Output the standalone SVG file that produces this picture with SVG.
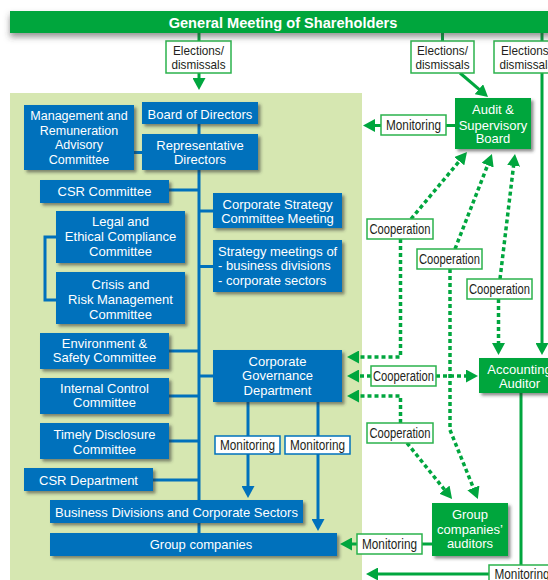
<svg xmlns="http://www.w3.org/2000/svg" width="548" height="580" viewBox="0 0 548 580">
<defs>
<filter id="sh" x="-20%" y="-20%" width="150%" height="170%">
<feDropShadow dx="2.5" dy="2.5" stdDeviation="1.5" flood-color="#303030" flood-opacity="0.55"/>
</filter>
<filter id="shbar" x="-5%" y="-60%" width="110%" height="260%">
<feDropShadow dx="0" dy="4" stdDeviation="3" flood-color="#404040" flood-opacity="0.55"/>
</filter>
<marker id="ag" markerUnits="userSpaceOnUse" markerWidth="12" markerHeight="13" viewBox="0 0 12 13" refX="3" refY="6.5" orient="auto">
<path d="M0,0 L12,6.5 L0,13z" fill="#00a63e"/>
</marker>
<marker id="ab" markerUnits="userSpaceOnUse" markerWidth="12" markerHeight="13" viewBox="0 0 12 13" refX="3" refY="6.5" orient="auto">
<path d="M0,0 L12,6.5 L0,13z" fill="#0071bc"/>
</marker>
</defs>
<style>
.g{fill:#00a63e;filter:url(#sh)}
.b{fill:#0071bc;filter:url(#sh)}
.t{font-family:"Liberation Sans",Arial,sans-serif;font-size:13px;fill:#fff;text-anchor:middle}
.lb{fill:#fff;stroke:#2bb24c;stroke-width:1.5}
.lbb{fill:#fff;stroke:#0071bc;stroke-width:1.5}
.lt{font-family:"Liberation Sans Narrow","Liberation Sans",Arial,sans-serif;font-size:14px;fill:#231f20;text-anchor:middle}
.le{font-family:"Liberation Sans Narrow","Liberation Sans",Arial,sans-serif;font-size:13.5px;fill:#231f20;text-anchor:middle}
.sg{fill:none;stroke:#00a63e;stroke-width:3}
.sb{fill:none;stroke:#0071bc;stroke-width:3}
.dg{fill:none;stroke:#00a63e;stroke-width:3.5;stroke-dasharray:4 3}
</style>
<rect x="0" y="0" width="548" height="580" fill="#fff"/>
<rect x="10" y="93" width="352" height="487" fill="#d6e7b1"/>

<g id="connectors">
<!-- blue tree -->
<path class="sb" d="M199,124 V545"/>
<path class="sb" d="M134,152.5 H142 M169,190 H199 M199,211 H213 M199,266.5 H213 M169,351 H199 M199,376 H213 M169,396 H199 M169,441 H199 M153,480 H199"/>
<path class="sb" d="M56,237 H45 V300 H56"/>
<path class="sb" d="M248,402 V489" marker-end="url(#ab)"/>
<path class="sb" d="M318,402 V522" marker-end="url(#ab)"/>
<!-- green solid -->
<path class="sg" d="M199,33 V81" marker-end="url(#ag)"/>
<path class="sg" d="M442.5,33 V41"/>
<path class="sg" d="M460,73 L481.2,91.1" marker-end="url(#ag)"/>
<path class="sg" d="M542,33 V346" marker-end="url(#ag)"/>
<path class="sg" d="M455,125.5 H372" marker-end="url(#ag)"/>
<path class="sg" d="M432,544 H349" marker-end="url(#ag)"/>
<path class="sg" d="M521,393 V574 H375" marker-end="url(#ag)"/>
<!-- green dotted -->
<path class="dg" d="M400.5,239 V357 H356" marker-end="url(#ag)"/>
<path class="dg" d="M411,219 L461.2,158.9" marker-end="url(#ag)"/>
<path class="dg" d="M371,376 H356" marker-end="url(#ag)"/>
<path class="dg" d="M436,376 H469" marker-end="url(#ag)"/>
<path class="dg" d="M400.5,423 V396 H356" marker-end="url(#ag)"/>
<path class="dg" d="M407,443 L446.4,492" marker-end="url(#ag)"/>
<path class="dg" d="M455,249 L488.7,162.4" marker-end="url(#ag)"/>
<path class="dg" d="M450,269 V430 L474.5,490.7" marker-end="url(#ag)"/>
<path class="dg" d="M500,279 L513.9,162.9" marker-end="url(#ag)"/>
<path class="dg" d="M498.5,299 V346" marker-end="url(#ag)"/>
<!-- labels -->
<rect class="lb" x="166" y="41" width="65" height="32"/>
<text class="le" x="198.5" y="54.5" textLength="51" lengthAdjust="spacingAndGlyphs">Elections/</text>
<text class="le" x="198.5" y="69" textLength="54" lengthAdjust="spacingAndGlyphs">dismissals</text>
<rect class="lb" x="411" y="41" width="63" height="32"/>
<text class="le" x="442.5" y="54.5" textLength="51" lengthAdjust="spacingAndGlyphs">Elections/</text>
<text class="le" x="442.5" y="69" textLength="54" lengthAdjust="spacingAndGlyphs">dismissals</text>
<rect class="lb" x="494" y="41" width="65" height="32"/>
<text class="le" x="526.5" y="54.5" textLength="51" lengthAdjust="spacingAndGlyphs">Elections/</text>
<text class="le" x="526.5" y="69" textLength="54" lengthAdjust="spacingAndGlyphs">dismissals</text>
<rect class="lb" x="381" y="115" width="65" height="20"/>
<text class="lt" x="413.5" y="130" textLength="55" lengthAdjust="spacingAndGlyphs">Monitoring</text>
<rect class="lb" x="367" y="219" width="66" height="20"/>
<text class="lt" x="400" y="234" textLength="61" lengthAdjust="spacingAndGlyphs">Cooperation</text>
<rect class="lb" x="417" y="249" width="65" height="20"/>
<text class="lt" x="449.5" y="264" textLength="61" lengthAdjust="spacingAndGlyphs">Cooperation</text>
<rect class="lb" x="467" y="279" width="65" height="20"/>
<text class="lt" x="499.5" y="294" textLength="61" lengthAdjust="spacingAndGlyphs">Cooperation</text>
<rect class="lb" x="371" y="366" width="65" height="20"/>
<text class="lt" x="403.5" y="381" textLength="61" lengthAdjust="spacingAndGlyphs">Cooperation</text>
<rect class="lb" x="367" y="423" width="66" height="20"/>
<text class="lt" x="400" y="438" textLength="61" lengthAdjust="spacingAndGlyphs">Cooperation</text>
<rect class="lbb" x="215" y="436" width="65" height="18"/>
<text class="lt" x="247.5" y="450" textLength="55" lengthAdjust="spacingAndGlyphs">Monitoring</text>
<rect class="lbb" x="285" y="436" width="65" height="18"/>
<text class="lt" x="317.5" y="450" textLength="55" lengthAdjust="spacingAndGlyphs">Monitoring</text>
<rect class="lb" x="357" y="534" width="65" height="20"/>
<text class="lt" x="389.5" y="549" textLength="55" lengthAdjust="spacingAndGlyphs">Monitoring</text>
<rect class="lb" x="489" y="565" width="66" height="20"/>
<text class="lt" x="522" y="579" textLength="55" lengthAdjust="spacingAndGlyphs">Monitoring</text>
</g>

<g id="general-meeting">
<rect x="10" y="11" width="545" height="22" fill="#00a63e" filter="url(#shbar)"/>
<text x="283" y="28" font-family="Liberation Sans, Arial, sans-serif" font-size="14.6" font-weight="bold" fill="#fff" text-anchor="middle">General Meeting of Shareholders</text>
</g>

<g id="mgmt-remuneration">
<rect class="b" x="24" y="105" width="110" height="65"/>
<text class="t" x="79" font-size="12.5"><tspan x="79" y="120" style="font-size:12.5px">Management and</tspan><tspan x="79" y="135" style="font-size:12.5px">Remuneration</tspan><tspan x="79" y="149" style="font-size:12.5px">Advisory</tspan><tspan x="79" y="164" style="font-size:12.5px">Committee</tspan></text>
</g>
<g id="board">
<rect class="b" x="142" y="102" width="116" height="22"/>
<text class="t" x="200" y="118.5">Board of Directors</text>
</g>
<g id="rep-directors">
<rect class="b" x="142" y="134" width="116" height="36"/>
<text class="t"><tspan x="200" y="150">Representative</tspan><tspan x="200" y="164">Directors</tspan></text>
</g>
<g id="csr-committee">
<rect class="b" x="40" y="180" width="129" height="23"/>
<text class="t" x="104.5" y="195.5">CSR Committee</text>
</g>
<g id="legal">
<rect class="b" x="56" y="211" width="129" height="52"/>
<text class="t"><tspan x="120.5" y="225.5">Legal and</tspan><tspan x="120.5" y="240.5">Ethical Compliance</tspan><tspan x="120.5" y="255.5">Committee</tspan></text>
</g>
<g id="crisis">
<rect class="b" x="56" y="272" width="129" height="52"/>
<text class="t"><tspan x="120.5" y="289">Crisis and</tspan><tspan x="120.5" y="304">Risk Management</tspan><tspan x="120.5" y="318.5">Committee</tspan></text>
</g>
<g id="corp-strategy">
<rect class="b" x="213" y="193" width="129" height="35"/>
<text class="t"><tspan x="277.5" y="209">Corporate Strategy</tspan><tspan x="277.5" y="222.5">Committee Meeting</tspan></text>
</g>
<g id="strategy-meetings">
<rect class="b" x="213" y="240" width="129" height="52"/>
<text class="t" style="text-anchor:start"><tspan x="218" y="255.5">Strategy meetings of</tspan><tspan x="218" y="270">- business divisions</tspan><tspan x="218" y="285">- corporate sectors</tspan></text>
</g>
<g id="env-safety">
<rect class="b" x="40" y="333" width="129" height="36"/>
<text class="t"><tspan x="104.5" y="348">Environment &amp;</tspan><tspan x="104.5" y="362">Safety Committee</tspan></text>
</g>
<g id="internal-control">
<rect class="b" x="40" y="378" width="129" height="36"/>
<text class="t"><tspan x="104.5" y="393">Internal Control</tspan><tspan x="104.5" y="407">Committee</tspan></text>
</g>
<g id="timely-disclosure">
<rect class="b" x="40" y="423" width="129" height="36"/>
<text class="t"><tspan x="104.5" y="439">Timely Disclosure</tspan><tspan x="104.5" y="453.5">Committee</tspan></text>
</g>
<g id="csr-department">
<rect class="b" x="24" y="468" width="129" height="23"/>
<text class="t" x="88.5" y="485">CSR Department</text>
</g>
<g id="corp-governance">
<rect class="b" x="213" y="350" width="129" height="52"/>
<text class="t"><tspan x="277.5" y="365.5">Corporate</tspan><tspan x="277.5" y="380">Governance</tspan><tspan x="277.5" y="395">Department</tspan></text>
</g>
<g id="business-divisions">
<rect class="b" x="50" y="500" width="253" height="23"/>
<text class="t" x="176.5" y="516.5">Business Divisions and Corporate Sectors</text>
</g>
<g id="group-companies">
<rect class="b" x="50" y="533" width="287" height="23"/>
<text class="t" x="201" y="549">Group companies</text>
</g>
<g id="audit-board">
<rect class="g" x="455" y="98" width="76" height="51"/>
<text class="t"><tspan x="493" y="114">Audit &amp;</tspan><tspan x="493" y="129.5">Supervisory</tspan><tspan x="493" y="143">Board</tspan></text>
</g>
<g id="accounting-auditor">
<rect class="g" x="479" y="358" width="82" height="35"/>
<text class="t"><tspan x="519.5" y="373.5">Accounting</tspan><tspan x="519.5" y="387.5">Auditor</tspan></text>
</g>
<g id="group-auditors">
<rect class="g" x="432" y="503" width="76" height="53"/>
<text class="t"><tspan x="470" y="519">Group</tspan><tspan x="470" y="533.5">companies’</tspan><tspan x="470" y="547.5">auditors</tspan></text>
</g>
</svg>
